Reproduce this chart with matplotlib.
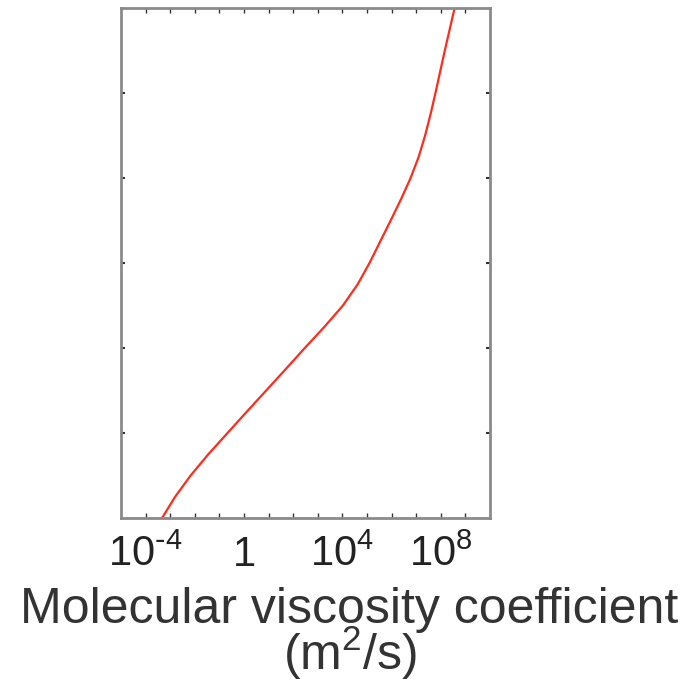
import numpy as np
import matplotlib
matplotlib.use("Agg")
import matplotlib.pyplot as plt
from matplotlib.ticker import FixedLocator, NullFormatter

plt.rcParams['font.family'] = ['Liberation Sans', 'DejaVu Sans']
plt.rcParams['mathtext.default'] = 'regular'
plt.rcParams['axes.unicode_minus'] = False

# Altitude (km) and molecular kinematic viscosity (m^2/s), as powers of ten
altitude_km = [0, 5, 10, 15, 20, 25, 30, 35, 40, 45, 50, 55, 60,
               65, 70, 75, 80, 85, 90, 95, 100, 105, 110, 115, 120]
log10_viscosity = [-3.33, -2.80, -2.17, -1.45, -0.67, 0.11, 0.90, 1.69,
                   2.47, 3.27, 4.02, 4.62, 5.10, 5.53, 5.96, 6.38, 6.77,
                   7.10, 7.36, 7.58, 7.78, 7.97, 8.16, 8.36, 8.56]
viscosity = [10.0 ** v for v in log10_viscosity]

major_ticks = [1e-4, 1, 1e4, 1e8]
major_labels = [r'$10^{\text{-}4}$', '1', '$10^{4}$', '$10^{8}$']
y_ticks = [20, 40, 60, 80, 100]

fig = plt.figure(figsize=(6.99, 6.85), dpi=100)
ax = fig.add_axes([0.1731, 0.2438, 0.528, 0.7445])

ax.plot(viscosity, altitude_km, color='#ff2b1c', lw=1.6, solid_capstyle='round')

ax.set_xscale('log')
ax.set_xlim(1e-5, 1e10)
ax.set_ylim(0, 120)

ax.xaxis.set_major_locator(FixedLocator(major_ticks))
ax.set_xticklabels(major_labels)
ax.xaxis.set_minor_locator(FixedLocator([10.0 ** k for k in range(-4, 10)]))
ax.xaxis.set_minor_formatter(NullFormatter())
ax.set_yticks(y_ticks)
ax.set_yticklabels([])

ax.tick_params(axis='x', which='both', direction='in', top=True, bottom=True,
               length=3.5, width=1.0, color='#333333', pad=12,
               labelsize=30, labelcolor='#222222')
ax.tick_params(axis='y', which='both', direction='in', left=True, right=True,
               length=3, width=1.5, color='#333333')

for s in ax.spines.values():
    s.set_color('#8a8a8a')
    s.set_linewidth(2.0)

fig.text(0.5, 0.0219, 'Molecular viscosity coefficient\n(m$^{2}$/s)',
         ha='center', va='baseline', fontsize=36, color='#333333',
         linespacing=0.80, multialignment='center')

fig.savefig('out.png', dpi=100, facecolor='white')
